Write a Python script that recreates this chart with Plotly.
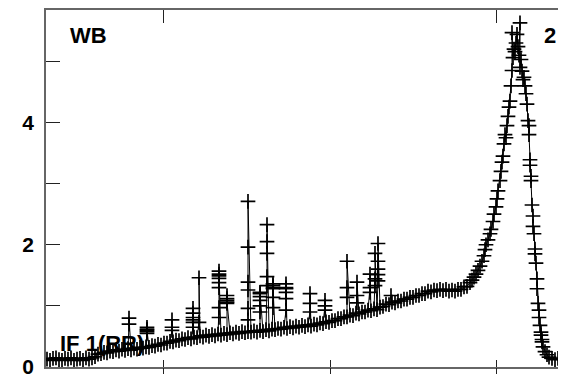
import plotly.graph_objects as go

# ---- baseline (channel, flux) ----
base_ch = [1, 4, 7, 10, 13, 16, 19, 22, 25, 28, 31, 34, 37, 40, 43,
           46, 49, 52, 55, 58, 61, 64, 67, 70, 73, 76, 79, 82, 85, 88, 91, 94, 97, 100,
           103, 106, 109, 112, 115, 118, 121, 124, 127, 130, 133, 136, 139, 142, 145,
           148, 151, 154, 157, 160, 163, 166, 169, 172, 175, 178, 181, 184, 187, 190,
           193, 196, 199, 202, 205, 208, 211, 214, 217, 220, 223, 226, 229, 232, 235,
           238, 241, 244, 247, 250, 253, 256, 259, 262, 265, 268, 271, 274, 277, 280,
           283, 286, 289, 292, 295, 298, 301, 304, 307, 310, 313, 316, 319, 322, 325,
           328, 331, 334, 337, 340, 343, 346, 349, 352, 355, 358, 361, 364, 367, 370,
           373, 376, 379, 382, 385, 388, 391, 394, 397, 400, 403, 406, 409, 412, 415,
           418, 421, 424]
base_val = [0.13, 0.11, 0.14, 0.15, 0.12, 0.11, 0.14, 0.13, 0.15, 0.11, 0.13, 0.14, 0.11, 0.15, 0.13,
            0.15, 0.17, 0.21, 0.22, 0.24, 0.23, 0.26, 0.25, 0.28, 0.26, 0.29, 0.27, 0.30, 0.28, 0.31, 0.29, 0.32, 0.31, 0.33,
            0.32, 0.35, 0.34, 0.37, 0.36, 0.39, 0.39, 0.42, 0.41, 0.44, 0.43, 0.46, 0.45, 0.48, 0.46,
            0.49, 0.48, 0.51, 0.49, 0.52, 0.50, 0.53, 0.51, 0.54, 0.52, 0.55, 0.53, 0.56, 0.54, 0.57,
            0.55, 0.58, 0.56, 0.58, 0.57, 0.59, 0.57, 0.60, 0.58, 0.61, 0.59, 0.62, 0.61, 0.63, 0.62,
            0.65, 0.63, 0.66, 0.64, 0.67, 0.65, 0.68, 0.66, 0.69, 0.67, 0.70, 0.69, 0.72, 0.71, 0.74,
            0.73, 0.76, 0.76, 0.79, 0.79, 0.82, 0.82, 0.85, 0.84, 0.88, 0.87, 0.90, 0.90, 0.93, 0.92,
            0.95, 0.94, 0.98, 0.99, 1.03, 1.02, 1.06, 1.05, 1.08, 1.08, 1.11, 1.11, 1.14, 1.14, 1.17,
            1.17, 1.20, 1.20, 1.24, 1.23, 1.26, 1.25, 1.27, 1.25, 1.27, 1.24, 1.26, 1.24, 1.27, 1.27,
            1.31, 1.32, 1.38]

# ---- narrow interference spikes: channel and the fluxes measured along each ----
spike_ch = [83, 101, 126, 147, 153, 173, 181, 202, 214, 221, 227, 240, 264, 279, 301, 311, 324, 329, 332, 345]
spike_vals = [
    [0.70, 0.80],
    [0.55, 0.62, 0.58, 0.65, 0.60],
    [0.60, 0.65, 0.77],
    [0.65, 0.73, 0.81, 0.96, 0.88, 0.77],
    [0.73, 1.46],
    [0.81, 0.97, 1.30, 1.49, 1.57, 1.45, 1.38, 1.52],
    [1.04, 1.12, 1.09, 1.17, 1.06],
    [0.77, 0.96, 1.26, 1.39, 1.96, 2.71],
    [0.90, 1.00, 1.09, 1.20, 1.15, 1.22],
    [1.33, 1.48, 1.86, 2.05, 2.33],
    [0.97, 1.14, 1.28, 1.33, 1.36, 1.30],
    [0.93, 1.12, 1.22, 1.30, 1.36, 1.28],
    [0.90, 1.04, 1.20],
    [0.93, 1.00, 1.09],
    [1.14, 1.30, 1.73],
    [1.05, 1.17, 1.39],
    [1.22, 1.30, 1.52],
    [1.33, 1.44, 1.86],
    [1.41, 1.51, 1.60, 1.73, 2.02],
    [1.17],
]

# ---- line peak and tail ----
peak_ch = [426, 428, 430, 432, 434, 436, 438, 439, 440, 442, 444, 445, 447, 448, 450, 451, 452,
           454, 455, 456, 457, 458, 459, 460, 461, 462, 463, 464, 465, 466, 466, 467, 468, 469,
           470, 471, 472, 473, 474, 474, 475, 476, 477, 478, 479, 480, 481, 482, 483, 483, 484,
           484, 485, 485, 486, 487, 487, 488, 489, 489, 490, 491, 491, 492, 493, 493, 494, 495,
           495, 496, 496, 497, 499, 501, 503, 506, 509, 512, 515, 518, 521]
peak_val = [1.42, 1.47, 1.52, 1.58, 1.65, 1.73, 1.82, 1.92, 2.00, 2.08, 2.18, 2.25, 2.38, 2.50, 2.62, 2.75, 2.88,
            3.05, 3.20, 3.35, 3.45, 3.65, 3.80, 3.75, 3.95, 4.10, 4.25, 4.35, 4.60, 4.85, 5.47, 5.06, 5.20, 5.16,
            5.30, 5.44, 5.24, 5.10, 5.63, 4.90, 5.03, 4.84, 4.70, 4.74, 4.60, 4.47, 4.30, 4.03, 3.95, 3.80, 3.39,
            3.30, 3.12, 3.05, 2.65, 2.47, 2.30, 2.18, 1.93, 1.85, 1.70, 1.44, 1.28, 1.04, 0.93, 0.81, 0.68, 0.57,
            0.52, 0.45, 0.41, 0.33, 0.25, 0.20, 0.16, 0.14, 0.12, 0.14, 0.13, 0.12, 0.14]

y_tickvals = [0, 1, 2, 3, 4, 5]
y_ticktext = ["0", "", "2", "", "4", ""]
x_bottom_ticks = [117, 284, 450]
x_top_ticks = [117, 450]

# assemble one sequence, spikes placed after the baseline sample preceding them
pts = [(c, 0, v) for c, v in zip(base_ch, base_val)]
for c, vals in zip(spike_ch, spike_vals):
    for i, v in enumerate(vals):
        pts.append((c, i + 1, v))
pts.sort(key=lambda p: (p[0], p[1]))
xs = [p[0] for p in pts] + peak_ch
ys = [p[2] for p in pts] + peak_val

FONT = "Liberation Sans, Arial, sans-serif"
fig = go.Figure()
fig.add_trace(go.Scatter(
    x=xs, y=ys, mode="lines+markers",
    line=dict(color="black", width=1),
    marker=dict(symbol="cross-thin", size=10.5, line=dict(color="black", width=1.7)),
    showlegend=False, hoverinfo="skip"))
# invisible helper traces so overlay axes are drawn
fig.add_trace(go.Scatter(x=[None], y=[None], xaxis="x2", yaxis="y2", showlegend=False))
fig.add_trace(go.Scatter(x=[None], y=[None], xaxis="x3", yaxis="y", showlegend=False))

XR = [0, 520]
YR = [0, 5.84]
fig.update_layout(
    width=558, height=370,
    margin=dict(l=38, r=0, t=2, b=6),
    paper_bgcolor="white", plot_bgcolor="white",
    xaxis=dict(range=XR, showline=True, linecolor="#666", linewidth=1.5,
               ticks="inside", tickvals=x_bottom_ticks, ticklen=7, tickcolor="#222",
               showticklabels=False, showgrid=False, zeroline=False),
    xaxis3=dict(range=XR, overlaying="x", side="bottom", anchor="y", showline=False,
                ticks="outside", tickvals=x_bottom_ticks, ticklen=6, tickcolor="#222",
                showticklabels=False, showgrid=False, zeroline=False),
    xaxis2=dict(range=XR, overlaying="x", side="top", anchor="y2", showline=True,
                linecolor="#666", linewidth=1.5, ticks="inside", tickvals=x_top_ticks,
                ticklen=13, tickcolor="#222", showticklabels=False, showgrid=False, zeroline=False),
    yaxis=dict(range=YR, showline=True, linecolor="#666", linewidth=1.5,
               ticks="inside", tickvals=y_tickvals, ticktext=y_ticktext, ticklen=14,
               tickcolor="#222", showgrid=False, zeroline=False, ticklabelstandoff=6,
               ticklabeloverflow="allow",
               tickfont=dict(family=FONT, size=21, color="black", weight="bold")),
    yaxis2=dict(range=YR, overlaying="y", side="right", anchor="x2", showline=False,
                ticks="inside", tickvals=y_tickvals, ticklen=3, tickcolor="#222",
                showticklabels=False, showgrid=False, zeroline=False),
    annotations=[
        dict(text="<b>WB</b>", xref="paper", yref="paper", x=0.042, y=0.928,
             xanchor="left", yanchor="middle", showarrow=False,
             font=dict(family=FONT, size=22, color="black")),
        dict(text="<b>2</b>", xref="paper", yref="paper", x=0.953, y=0.928,
             xanchor="left", yanchor="middle", showarrow=False,
             font=dict(family=FONT, size=22, color="black")),
        dict(text="<b>IF 1(RR)</b>", xref="paper", yref="paper", x=0.024, y=0.065,
             xanchor="left", yanchor="middle", showarrow=False,
             font=dict(family=FONT, size=22, color="black")),
    ],
)
fig.write_html("out.html")
